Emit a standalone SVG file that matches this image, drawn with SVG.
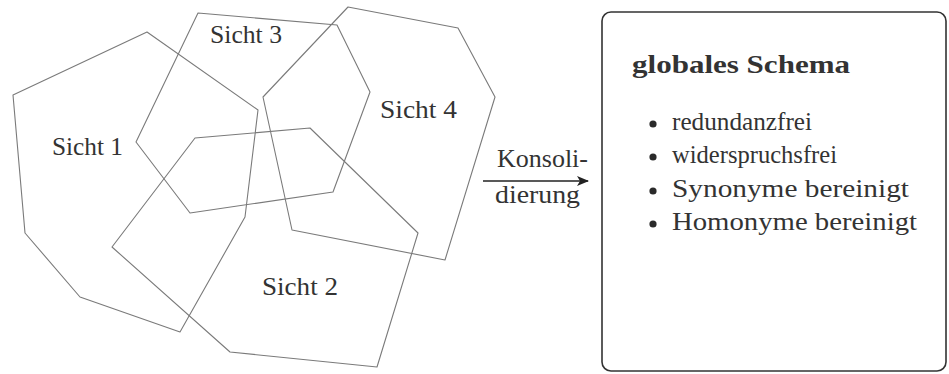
<svg xmlns="http://www.w3.org/2000/svg" width="949" height="374" viewBox="0 0 949 374">
<style>
.poly{fill:none;stroke:#7a7a7a;stroke-width:1.1;stroke-linejoin:round}
.t{font-family:"Liberation Serif","Times New Roman",serif;font-size:25px;fill:#333333}
.b{font-weight:bold}
.box{fill:none;stroke:#333;stroke-width:1.6}
.conn{stroke:#222;stroke-width:1.6;fill:none}
</style>
<defs>
<marker id="ah" viewBox="0 0 12 10" refX="11" refY="5" markerWidth="12" markerHeight="10" markerUnits="userSpaceOnUse" orient="auto">
<path d="M0,0 L12,5 L0,10 L3,5 Z" fill="#222"/>
</marker>
</defs>
<rect width="949" height="374" fill="#ffffff"/>
<g id="sicht1">
<polygon class="poly" points="13,95 147,32 258,110 245,217 180,332 80,297 25,233"/>
<text class="t" x="52" y="155" textLength="71" lengthAdjust="spacingAndGlyphs">Sicht 1</text>
</g>
<g id="sicht3">
<polygon class="poly" points="198,13 337,25 370,92 333,192 190,213 136,142"/>
<text class="t" x="210" y="43" textLength="72" lengthAdjust="spacingAndGlyphs">Sicht 3</text>
</g>
<g id="sicht4">
<polygon class="poly" points="348,7 458,28 495,97 445,260 292,230 263,97"/>
<text class="t" x="380" y="118" textLength="77" lengthAdjust="spacingAndGlyphs">Sicht 4</text>
</g>
<g id="sicht2">
<polygon class="poly" points="195,138 310,128 418,233 377,367 230,352 112,247"/>
<text class="t" x="262" y="295" textLength="76" lengthAdjust="spacingAndGlyphs">Sicht 2</text>
</g>
<g id="connectors">
<line class="conn" x1="483" y1="181" x2="588" y2="181" marker-end="url(#ah)"/>
<text class="t" x="497" y="167" textLength="91" lengthAdjust="spacingAndGlyphs">Konsoli-</text>
<text class="t" x="495" y="203" textLength="85" lengthAdjust="spacingAndGlyphs">dierung</text>
</g>
<g id="globales-schema">
<rect class="box" x="602" y="12" width="344" height="359" rx="9" ry="9"/>
<text class="t b" x="632" y="73" textLength="218" lengthAdjust="spacingAndGlyphs">globales Schema</text>
<circle cx="653" cy="124" r="3.6" fill="#2a2a2a"/>
<text class="t" x="672" y="130" textLength="140" lengthAdjust="spacingAndGlyphs">redundanzfrei</text>
<circle cx="653" cy="157" r="3.6" fill="#2a2a2a"/>
<text class="t" x="672" y="163" textLength="165" lengthAdjust="spacingAndGlyphs">widerspruchsfrei</text>
<circle cx="653" cy="191" r="3.6" fill="#2a2a2a"/>
<text class="t" x="672" y="197" textLength="237" lengthAdjust="spacingAndGlyphs">Synonyme bereinigt</text>
<circle cx="653" cy="224" r="3.6" fill="#2a2a2a"/>
<text class="t" x="672" y="230" textLength="245" lengthAdjust="spacingAndGlyphs">Homonyme bereinigt</text>
</g>
</svg>
